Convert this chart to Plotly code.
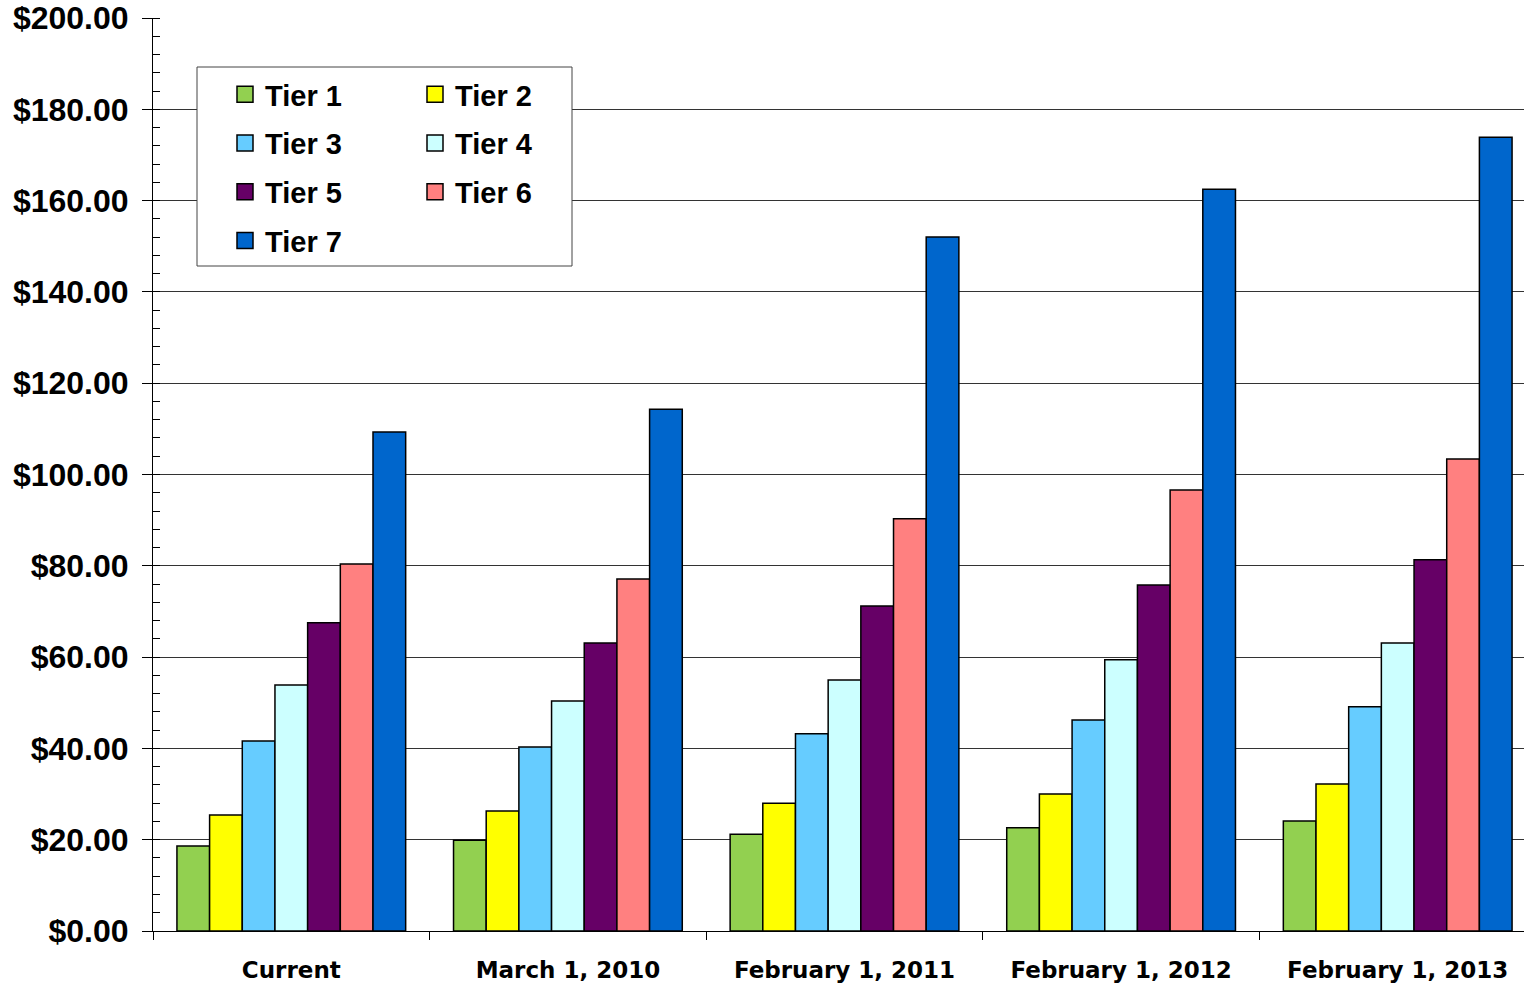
import plotly.graph_objects as go

categories = ["Current", "March 1, 2010", "February 1, 2011", "February 1, 2012", "February 1, 2013"]
tier_names = ["Tier 1", "Tier 2", "Tier 3", "Tier 4", "Tier 5", "Tier 6", "Tier 7"]
tier1 = [18.6, 19.9, 21.2, 22.6, 24.1]
tier2 = [25.4, 26.3, 28.0, 30.0, 32.2]
tier3 = [41.6, 40.3, 43.2, 46.2, 49.1]
tier4 = [53.9, 50.4, 55.0, 59.4, 63.1]
tier5 = [67.5, 63.1, 71.2, 75.8, 81.3]
tier6 = [80.4, 77.1, 90.3, 96.6, 103.4]
tier7 = [109.3, 114.3, 152.0, 162.5, 173.9]
colors = ["#92D050", "#FFFF00", "#66CCFF", "#CCFFFF", "#660066", "#FF8080", "#0066CC"]
y_ticks = [0, 20, 40, 60, 80, 100, 120, 140, 160, 180, 200]

series = [tier1, tier2, tier3, tier4, tier5, tier6, tier7]

FONT = "Liberation Sans, Arial, sans-serif"

fig = go.Figure()
for i, (name, vals, col) in enumerate(zip(tier_names, series, colors)):
    fig.add_trace(go.Bar(
        x=categories, y=vals, name=name,
        marker=dict(color=col, line=dict(color="black", width=1.5)),
        legendgroup=name, showlegend=False,
    ))
# legend entries (larger square swatches) tied to the bar traces via legendgroup
for i, (name, col) in enumerate(zip(tier_names, colors)):
    fig.add_trace(go.Scatter(
        x=[None], y=[None], mode="markers", name=name,
        marker=dict(symbol="square", size=16, color=col, line=dict(color="black", width=1.5)),
        legend="legend" if i % 2 == 0 else "legend2",
        legendgroup=name, showlegend=True, hoverinfo="skip",
    ))

# the original chart's plot area runs slightly past the right edge of the window
W, H = 1540, 985
L, R, T, B = 153, 4, 18, 54
pw = W - L - R
ph = H - T - B

def px2x(px):
    return (px - L) / pw

def px2y(py):
    return 1 - (py - T) / ph

legend_font = dict(family=FONT, size=29, color="black", weight="bold")

fig.update_layout(
    width=W, height=H,
    margin=dict(l=L, r=R, t=T, b=B, autoexpand=False),
    plot_bgcolor="white", paper_bgcolor="white",
    barmode="group", bargap=0.173, bargroupgap=0,
    font=dict(family=FONT, color="black"),
    showlegend=True,
    legend=dict(x=px2x(225), y=px2y(69), xanchor="left", yanchor="top",
                bgcolor="rgba(0,0,0,0)", borderwidth=0, font=legend_font,
                tracegroupgap=8, traceorder="grouped", itemsizing="trace"),
    legend2=dict(x=px2x(415), y=px2y(69), xanchor="left", yanchor="top",
                 bgcolor="rgba(0,0,0,0)", borderwidth=0, font=legend_font,
                 tracegroupgap=8, traceorder="grouped", itemsizing="trace"),
    xaxis=dict(
        type="category", categoryorder="array", categoryarray=categories,
        showline=True, linecolor="black", linewidth=1,
        ticks="outside", tickson="boundaries", ticklen=8, tickcolor="black",
        tickfont=dict(family="DejaVu Sans, sans-serif", size=23, color="black", weight="bold"),
        ticklabelstandoff=18, showgrid=False, automargin=False,
    ),
    yaxis=dict(
        range=[0, 200], tickvals=y_ticks, tickformat="$.2f",
        showline=True, linecolor="black", linewidth=1,
        ticks="outside", ticklen=10, tickcolor="black",
        showgrid=True, gridcolor="#333333", gridwidth=1,
        tickfont=dict(family=FONT, size=32, color="black", weight="bold"),
        ticklabelstandoff=7, zeroline=False, automargin=False,
        ticklabeloverflow="allow",
        minor=dict(dtick=4, ticks="inside", ticklen=7, tickcolor="black", showgrid=False),
    ),
    shapes=[dict(type="rect", xref="paper", yref="paper",
                 x0=px2x(197), x1=px2x(572), y0=px2y(266), y1=px2y(67),
                 fillcolor="white", line=dict(color="#444444", width=1), layer="above")],
)

fig.write_html("out.html",
               config={"displayModeBar": False},
               post_script="document.body.style.margin='0';document.body.style.overflow='hidden';")
